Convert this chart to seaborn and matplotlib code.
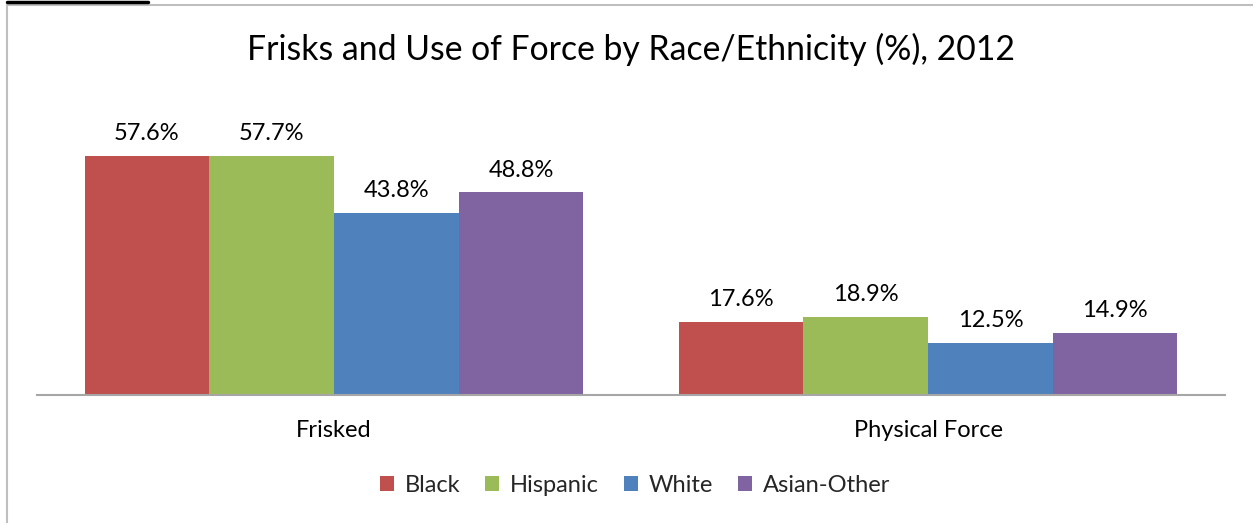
import matplotlib
matplotlib.use("Agg")
import matplotlib.pyplot as plt
import seaborn as sns
import pandas as pd
from matplotlib.lines import Line2D
from matplotlib.patches import Patch

# Data
categories = ["Frisked", "Physical Force"]
races = ["Black", "Hispanic", "White", "Asian-Other"]
black = [57.6, 17.6]
hispanic = [57.7, 18.9]
white = [43.8, 12.5]
asian_other = [48.8, 14.9]
colors = ["#C0504D", "#9BBB59", "#4F81BD", "#8064A2"]

rows = []
for race, vals in zip(races, [black, hispanic, white, asian_other]):
    for cat, v in zip(categories, vals):
        rows.append({"Category": cat, "Race": race, "Value": v})
df = pd.DataFrame(rows)

sns.set_style("white")
plt.rcParams["font.family"] = ["Lato", "DejaVu Sans"]

W, H = 1253, 523
fs = 17
fig = plt.figure(figsize=(W / 100, H / 100), dpi=100)
ax = fig.add_axes([37 / W, (H - 395) / H, (1225 - 37) / W, (395 - 104.5) / H])

sns.barplot(data=df, x="Category", y="Value", hue="Race", hue_order=races,
            order=categories, palette=colors, width=0.84, gap=0,
            saturation=1, ax=ax, legend=False, linewidth=0)

ax.set_xlim(-0.5, 1.5)
ax.set_ylim(0, 70)
ax.set_xlabel("")
ax.set_ylabel("")
ax.set_yticks([])
for s in ["top", "right", "left"]:
    ax.spines[s].set_visible(False)
ax.spines["bottom"].set_color("#A6A6A6")
ax.spines["bottom"].set_linewidth(1.5)
ax.tick_params(axis="x", length=0, pad=18, labelsize=fs, colors="#000000")

for container in ax.containers:
    labels = [f"{b.get_height():.1f}%" for b in container]
    ax.bar_label(container, labels=labels, padding=8.5, fontsize=fs, color="#000000")

fig.text(631 / W, 1 - 49 / H, "Frisks and Use of Force by Race/Ethnicity (%), 2012",
         ha="center", va="center", fontsize=24.3, color="#000000")

handles = [Patch(facecolor=c, edgecolor="none") for c in colors]
fig.legend(handles, races, loc="center", bbox_to_anchor=(635 / W, 1 - 485 / H),
           ncol=4, frameon=False, fontsize=fs, handlelength=0.6, handleheight=0.6,
           handletextpad=0.45, columnspacing=1.05)

# Outer frame
fig.add_artist(Line2D([7 / W, 1.0], [1 - 5 / H, 1 - 5 / H], color="#BFBFBF", lw=1.5,
                      transform=fig.transFigure))
fig.add_artist(Line2D([7 / W, 7 / W], [0, 1 - 5 / H], color="#BFBFBF", lw=1.5,
                      transform=fig.transFigure))
fig.add_artist(Line2D([7 / W, 148 / W], [1 - 1.5 / H, 1 - 1.5 / H], color="#000000", lw=2.5,
                      transform=fig.transFigure))

fig.savefig("out.png", dpi=100)
